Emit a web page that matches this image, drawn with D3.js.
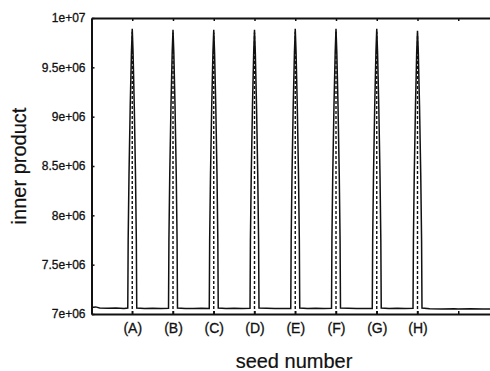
<!DOCTYPE html>
<html lang="en">
<head>
<meta charset="UTF-8">
<title>inner product vs seed number</title>
<style>
  body { margin: 0; background: #fff; }
  text { font-family: "Liberation Sans", Arial, sans-serif; fill: #111; }
</style>
</head>
<body>
<div id="chart"></div>
<script src="https://d3js.org/d3.v7.min.js"></script>
<script>
// tick labels on the seed axis
var seedTicks = [100, 200, 300, 400, 500, 600, 700, 800, 900];
var seedLabels = ["(A)", "(B)", "(C)", "(D)", "(E)", "(F)", "(G)", "(H)", ""];
var productTicks = [7e6, 7.5e6, 8e6, 8.5e6, 9e6, 9.5e6, 1e7];
var productLabels = ["7e+06", "7.5e+06", "8e+06", "8.5e+06", "9e+06", "9.5e+06", "1e+07"];

// solid curve
var solidSeed = [
  0, 10, 20, 40, 60, 80, 89,
  90, 92, 95, 98, 100, 102, 105, 108, 110, 111,
  130, 150, 170, 189,
  190, 192, 195, 198, 200, 202, 205, 208, 210, 211,
  230, 250, 270, 289,
  290, 292, 295, 298, 300, 302, 305, 308, 310, 311,
  330, 350, 370, 389,
  390, 392, 395, 398, 400, 402, 405, 408, 410, 411,
  430, 450, 470, 489,
  490, 492, 495, 498, 500, 502, 505, 508, 510, 511,
  530, 550, 570, 589,
  590, 592, 595, 598, 600, 602, 605, 608, 610, 611,
  630, 650, 670, 689,
  690, 692, 695, 698, 700, 702, 705, 708, 710, 711,
  730, 750, 770, 789,
  790, 792, 795, 798, 800, 802, 805, 808, 810, 811,
  830, 860, 890, 900, 930, 960, 1000
];
var solidValue = [
  7.065e6, 7.072e6, 7.062e6, 7.058e6, 7.061e6, 7.057e6, 7.06e6,
  7.75e6, 8.4e6, 9.1e6, 9.65e6, 9.89e6, 9.65e6, 9.1e6, 8.4e6, 7.75e6, 7.06e6,
  7.056e6, 7.058e6, 7.055e6, 7.058e6,
  7.75e6, 8.4e6, 9.1e6, 9.65e6, 9.88e6, 9.65e6, 9.1e6, 8.4e6, 7.75e6, 7.06e6,
  7.057e6, 7.055e6, 7.058e6, 7.056e6,
  7.75e6, 8.4e6, 9.1e6, 9.65e6, 9.88e6, 9.65e6, 9.1e6, 8.4e6, 7.75e6, 7.06e6,
  7.056e6, 7.058e6, 7.055e6, 7.057e6,
  7.75e6, 8.4e6, 9.1e6, 9.65e6, 9.88e6, 9.65e6, 9.1e6, 8.4e6, 7.75e6, 7.06e6,
  7.058e6, 7.056e6, 7.057e6, 7.055e6,
  7.75e6, 8.4e6, 9.1e6, 9.65e6, 9.89e6, 9.65e6, 9.1e6, 8.4e6, 7.75e6, 7.06e6,
  7.056e6, 7.058e6, 7.056e6, 7.057e6,
  7.75e6, 8.4e6, 9.1e6, 9.65e6, 9.89e6, 9.65e6, 9.1e6, 8.4e6, 7.75e6, 7.06e6,
  7.058e6, 7.055e6, 7.057e6, 7.056e6,
  7.75e6, 8.4e6, 9.1e6, 9.65e6, 9.89e6, 9.65e6, 9.1e6, 8.4e6, 7.75e6, 7.06e6,
  7.056e6, 7.058e6, 7.055e6, 7.057e6,
  7.75e6, 8.4e6, 9.1e6, 9.65e6, 9.87e6, 9.65e6, 9.1e6, 8.4e6, 7.75e6, 7.06e6,
  7.052e6, 7.05e6, 7.054e6, 7.05e6, 7.053e6, 7.05e6, 7.052e6
];

// dashed curve: a thin spike at each seed
var dashedSeed = [100, 200, 300, 400, 500, 600, 700, 800];
var dashedPeak = [9.86e6, 9.85e6, 9.85e6, 9.85e6, 9.86e6, 9.86e6, 9.86e6, 9.84e6];

var W = 490, H = 371;
var margin = {top: 18, left: 91.5, bottom: 57};

var svg = d3.select("#chart").append("svg")
    .attr("width", W)
    .attr("height", H);

var x = d3.scaleLinear().domain([0, 1000]).range([margin.left, 499]);
var y = d3.scaleLinear().domain([7e6, 1e7]).range([314, margin.top]);

var line = d3.line()
    .x(function (d) { return x(d[0]); })
    .y(function (d) { return y(d[1]); });

// dashed spikes
dashedSeed.forEach(function (s, i) {
  svg.append("path")
    .attr("d", line([[s, 7e6], [s, dashedPeak[i]]]))
    .attr("fill", "none")
    .attr("stroke", "#111")
    .attr("stroke-width", 1.4)
    .attr("stroke-dasharray", "3,2");
});

// solid curve
svg.append("path")
  .attr("d", line(solidSeed.map(function (s, i) { return [s, solidValue[i]]; })))
  .attr("fill", "none")
  .attr("stroke", "#111")
  .attr("stroke-width", 1.5);

// axes
var yAxis = svg.append("g")
  .attr("transform", "translate(" + margin.left + ",0)")
  .call(d3.axisLeft(y).tickValues(productTicks)
    .tickFormat(function (d, i) { return productLabels[i]; })
    .tickSize(-3).tickSizeOuter(0).tickPadding(6));

var xAxis = svg.append("g")
  .attr("transform", "translate(0,314)")
  .call(d3.axisBottom(x).tickValues(seedTicks)
    .tickFormat(function (d, i) { return seedLabels[i]; })
    .tickSize(-3).tickSizeOuter(0).tickPadding(9));

var topAxis = svg.append("g")
  .attr("transform", "translate(0," + margin.top + ")")
  .call(d3.axisTop(x).tickValues(seedTicks)
    .tickFormat("")
    .tickSize(-3).tickSizeOuter(0));

svg.selectAll(".domain").attr("stroke", "#111").attr("stroke-width", 2);
svg.selectAll(".tick line").attr("stroke", "#111").attr("stroke-width", 1.5);
yAxis.selectAll("text").style("font-size", "12px").attr("fill", "#111")
  .attr("stroke", "#111").attr("stroke-width", 0.3);
xAxis.selectAll("text").style("font-size", "14px").attr("fill", "#111")
  .attr("stroke", "#111").attr("stroke-width", 0.3);

// axis titles
svg.append("text")
  .attr("transform", "translate(26,166) rotate(-90)")
  .attr("text-anchor", "middle")
  .style("font-size", "20px")
  .attr("stroke", "#111").attr("stroke-width", 0.2)
  .text("inner product");

svg.append("text")
  .attr("x", 294)
  .attr("y", 368)
  .attr("text-anchor", "middle")
  .style("font-size", "20px")
  .attr("stroke", "#111").attr("stroke-width", 0.2)
  .text("seed number");
</script>
</body>
</html>
